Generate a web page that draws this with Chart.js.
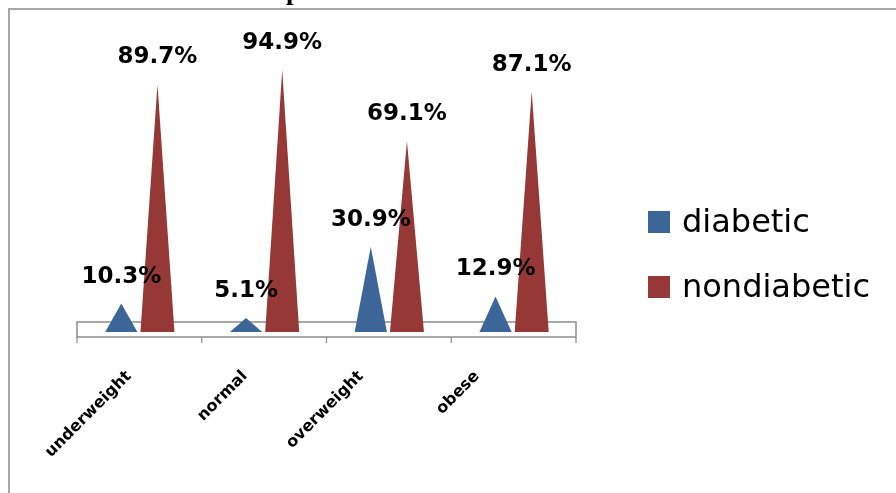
<!DOCTYPE html>
<html>
<head>
<meta charset="utf-8">
<script src="https://cdn.jsdelivr.net/npm/chart.js@4.4.1/dist/chart.umd.min.js"></script>
<style>
  html, body { margin: 0; padding: 0; background: #fff; }
  #wrap { width: 896px; height: 493px; position: relative; }
</style>
</head>
<body>
<div id="wrap"><canvas id="c" width="896" height="493"></canvas></div>
<script>
// BMI groups and share of diabetic / non-diabetic patients (%)
const categories = ['underweight', 'normal', 'overweight', 'obese'];
const diabetic = [10.3, 5.1, 30.9, 12.9];
const nondiabetic = [89.7, 94.9, 69.1, 87.1];
const seriesNames = ['diabetic', 'nondiabetic'];
const seriesColors = ['#3c6598', '#953836'];
const titleText = 'Graph: Relation of BMI with diabetes';

// page frame and the (partly clipped) title
const framePlugin = {
  id: 'frame',
  beforeDraw(chart) {
    const ctx = chart.ctx;
    ctx.save();
    ctx.fillStyle = '#fff';
    ctx.fillRect(0, 0, chart.width, chart.height);
    ctx.fillStyle = '#a6a6a6';
    ctx.fillRect(8, 8, chart.width - 8, 2);
    ctx.fillRect(8, 8, 2, chart.height - 8);
    ctx.fillStyle = '#000';
    ctx.font = 'bold 27px "Liberation Serif", "Times New Roman", serif';
    ctx.textAlign = 'center';
    ctx.textBaseline = 'alphabetic';
    ctx.fillText(titleText, 459, -1);
    ctx.restore();
  }
};

// 3D-style floor under the cones, with category separators
const floorPlugin = {
  id: 'floor',
  beforeDatasetsDraw(chart) {
    const ctx = chart.ctx;
    const xs = chart.scales.x;
    const base = chart.scales.y.getPixelForValue(0);
    const left = xs.getPixelForValue(-0.5);
    const right = xs.getPixelForValue(categories.length - 0.5);
    ctx.save();
    ctx.strokeStyle = '#8c8c8c';
    ctx.lineWidth = 1.5;
    ctx.strokeRect(left, base - 10, right - left, 15);
    ctx.lineWidth = 1.2;
    ctx.beginPath();
    for (let i = 0; i <= categories.length; i++) {
      const x = xs.getPixelForValue(i - 0.5);
      ctx.moveTo(x, base + 5);
      ctx.lineTo(x, base + 11);
    }
    ctx.stroke();
    ctx.restore();
  }
};

// bars rendered as cones (triangles) from the bar element geometry
const conePlugin = {
  id: 'cones',
  beforeDatasetDraw(chart, args) {
    const ctx = chart.ctx;
    const meta = args.meta;
    const color = chart.data.datasets[args.index].backgroundColor;
    ctx.save();
    ctx.fillStyle = color;
    meta.data.forEach(el => {
      const p = el.getProps(['x', 'y', 'base', 'width'], true);
      ctx.beginPath();
      ctx.moveTo(p.x - p.width / 2, p.base);
      ctx.lineTo(p.x, p.y);
      ctx.lineTo(p.x + p.width / 2, p.base);
      ctx.closePath();
      ctx.fill();
    });
    ctx.restore();
    return false;
  }
};

// value labels above each cone tip, plus the legend on the right
const labelPlugin = {
  id: 'labels',
  afterDraw(chart) {
    const ctx = chart.ctx;
    ctx.save();
    ctx.fillStyle = '#000';
    ctx.font = 'bold 23px "DejaVu Sans", sans-serif';
    ctx.textAlign = 'center';
    ctx.textBaseline = 'middle';
    chart.data.datasets.forEach((ds, di) => {
      chart.getDatasetMeta(di).data.forEach((el, i) => {
        const p = el.getProps(['x', 'y'], true);
        ctx.fillText(ds.data[i].toFixed(1) + '%', p.x, p.y - 27);
      });
    });

    const area = chart.chartArea;
    const lx = area.right + 72;
    ctx.font = '32px "DejaVu Sans", sans-serif';
    ctx.textAlign = 'left';
    ctx.textBaseline = 'alphabetic';
    chart.data.datasets.forEach((ds, di) => {
      const top = area.top + 155 + di * 65;
      ctx.fillStyle = ds.backgroundColor;
      ctx.fillRect(lx, top, 22, 22);
      ctx.fillStyle = '#000';
      ctx.fillText(ds.label, lx + 34, top + 21);
    });
    ctx.restore();
  }
};

new Chart(document.getElementById('c'), {
  type: 'bar',
  data: {
    labels: categories,
    datasets: [
      { label: seriesNames[0], data: diabetic, backgroundColor: seriesColors[0],
        xAxisID: 'x', yAxisID: 'y', barPercentage: 0.89, categoryPercentage: 0.58 },
      { label: seriesNames[1], data: nondiabetic, backgroundColor: seriesColors[1],
        xAxisID: 'x', yAxisID: 'y', barPercentage: 0.94, categoryPercentage: 0.58 }
    ]
  },
  options: {
    responsive: false,
    animation: false,
    devicePixelRatio: 1,
    layout: { padding: { left: 77, right: 320, top: 56, bottom: 0 } },
    plugins: {
      legend: { display: false },
      tooltip: { enabled: false }
    },
    scales: {
      x: { type: 'category', display: false, offset: true },
      y: { display: false, min: 0, max: 100 },
      // axis carrying the rotated category names
      xl: {
        type: 'linear',
        position: 'bottom',
        offset: false,
        min: -0.448,
        max: 3.853,
        afterBuildTicks(scale) {
          scale.ticks = categories.map((_, i) => ({ value: i }));
        },
        afterFit(scale) { scale.height = 161; },
        grid: { display: false },
        border: { display: false },
        ticks: {
          autoSkip: false,
          minRotation: 45,
          maxRotation: 45,
          padding: 27,
          color: '#000',
          font: { family: '"DejaVu Sans", sans-serif', weight: 'bold', size: 16 },
          callback: v => categories[v]
        }
      }
    }
  },
  plugins: [framePlugin, floorPlugin, conePlugin, labelPlugin]
});
</script>
</body>
</html>
